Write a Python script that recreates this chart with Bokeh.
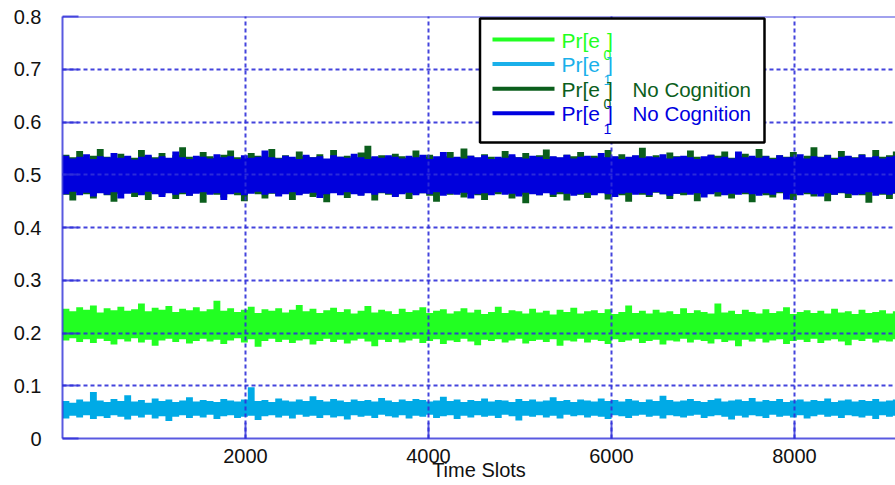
import numpy as np
from bokeh.plotting import figure
from bokeh.models import FixedTicker, Range1d, BoxAnnotation, Label, Span
from bokeh.embed import file_html
from bokeh.resources import INLINE

# ---------------- data (per-bin envelope of each noisy series, 75 time slots per bin) -------------
BIN = 75
X_TICKS = [2000, 4000, 6000, 8000]
Y_TICKS = [0, 0.1, 0.2, 0.3, 0.4, 0.5, 0.6, 0.7, 0.8]
Y_LABELS = {0: "0"}

E0_HIGH = [0.246, 0.241, 0.249, 0.244, 0.252, 0.239, 0.247, 0.243, 0.250, 0.242,
           0.245, 0.256, 0.241, 0.248, 0.244, 0.251, 0.240, 0.246, 0.243, 0.249,
           0.241, 0.245, 0.261, 0.242, 0.247, 0.240, 0.244, 0.250, 0.238, 0.245,
           0.242, 0.247, 0.239, 0.244, 0.253, 0.241, 0.246, 0.238, 0.243, 0.248,
           0.240, 0.245, 0.237, 0.242, 0.251, 0.239, 0.244, 0.241, 0.236, 0.246,
           0.240, 0.243, 0.249, 0.238, 0.242, 0.245, 0.237, 0.241, 0.247, 0.239,
           0.244, 0.236, 0.240, 0.250, 0.238, 0.243, 0.241, 0.237, 0.246, 0.239,
           0.242, 0.235, 0.244, 0.240, 0.248, 0.237, 0.241, 0.243, 0.238, 0.245,
           0.236, 0.240, 0.252, 0.238, 0.242, 0.237, 0.244, 0.239, 0.241, 0.236,
           0.247, 0.238, 0.243, 0.240, 0.237, 0.256, 0.239, 0.242, 0.236, 0.244,
           0.240, 0.237, 0.245, 0.238, 0.241, 0.249, 0.236, 0.240, 0.243, 0.238,
           0.242, 0.237, 0.246, 0.239, 0.241, 0.236, 0.244, 0.238, 0.240, 0.243,
           0.237, 0.241]
E0_LOW = [0.186, 0.190, 0.183, 0.188, 0.181, 0.189, 0.185, 0.178, 0.188, 0.184,
          0.190, 0.182, 0.187, 0.176, 0.186, 0.189, 0.183, 0.188, 0.180, 0.185,
          0.189, 0.184, 0.187, 0.179, 0.186, 0.190, 0.182, 0.188, 0.174, 0.185,
          0.189, 0.183, 0.187, 0.181, 0.186, 0.188, 0.178, 0.185, 0.189, 0.183,
          0.187, 0.180, 0.186, 0.189, 0.184, 0.175, 0.187, 0.183, 0.188, 0.182,
          0.186, 0.189, 0.181, 0.185, 0.188, 0.179, 0.186, 0.183, 0.189, 0.184,
          0.177, 0.187, 0.185, 0.188, 0.182, 0.186, 0.189, 0.180, 0.185, 0.187,
          0.183, 0.188, 0.176, 0.186, 0.184, 0.189, 0.182, 0.187, 0.185, 0.179,
          0.188, 0.183, 0.186, 0.189, 0.181, 0.185, 0.187, 0.178, 0.186, 0.184,
          0.189, 0.182, 0.187, 0.185, 0.180, 0.188, 0.183, 0.186, 0.175, 0.187,
          0.184, 0.189, 0.182, 0.186, 0.188, 0.179, 0.185, 0.187, 0.183, 0.189,
          0.181, 0.186, 0.188, 0.184, 0.177, 0.187, 0.185, 0.189, 0.182, 0.186,
          0.184, 0.188]

E1_HIGH = [0.071, 0.068, 0.074, 0.070, 0.088, 0.072, 0.069, 0.075, 0.071, 0.082,
           0.070, 0.073, 0.068, 0.076, 0.071, 0.074, 0.069, 0.072, 0.078, 0.070,
           0.073, 0.071, 0.069, 0.075, 0.072, 0.070, 0.074, 0.097, 0.071, 0.073,
           0.069, 0.076, 0.072, 0.070, 0.074, 0.071, 0.080, 0.073, 0.070, 0.075,
           0.072, 0.069, 0.074, 0.071, 0.073, 0.070, 0.077, 0.072, 0.069, 0.074,
           0.071, 0.075, 0.073, 0.070, 0.072, 0.079, 0.071, 0.074, 0.069, 0.073,
           0.071, 0.076, 0.070, 0.073, 0.072, 0.069, 0.075, 0.071, 0.074, 0.070,
           0.072, 0.078, 0.071, 0.073, 0.069, 0.074, 0.072, 0.070, 0.076, 0.071,
           0.073, 0.070, 0.075, 0.072, 0.069, 0.074, 0.071, 0.081, 0.073, 0.070,
           0.072, 0.075, 0.071, 0.069, 0.073, 0.076, 0.070, 0.072, 0.074, 0.071,
           0.077, 0.070, 0.073, 0.071, 0.075, 0.069, 0.072, 0.074, 0.070, 0.073,
           0.071, 0.076, 0.069, 0.072, 0.074, 0.070, 0.073, 0.071, 0.075, 0.070,
           0.072, 0.074]
E1_LOW = [0.038, 0.043, 0.040, 0.044, 0.037, 0.042, 0.039, 0.044, 0.041, 0.036,
          0.043, 0.040, 0.045, 0.038, 0.042, 0.033, 0.041, 0.044, 0.039, 0.043,
          0.040, 0.045, 0.037, 0.042, 0.044, 0.039, 0.041, 0.043, 0.035, 0.042,
          0.044, 0.040, 0.043, 0.038, 0.045, 0.041, 0.043, 0.039, 0.044, 0.040,
          0.042, 0.036, 0.044, 0.041, 0.043, 0.039, 0.045, 0.042, 0.040, 0.044,
          0.038, 0.043, 0.041, 0.045, 0.039, 0.042, 0.044, 0.037, 0.043, 0.040,
          0.044, 0.041, 0.043, 0.039, 0.045, 0.042, 0.034, 0.043, 0.041, 0.044,
          0.040, 0.043, 0.038, 0.045, 0.042, 0.044, 0.040, 0.043, 0.041, 0.037,
          0.044, 0.042, 0.039, 0.043, 0.045, 0.041, 0.043, 0.038, 0.044, 0.042,
          0.040, 0.043, 0.045, 0.039, 0.042, 0.044, 0.041, 0.036, 0.043, 0.040,
          0.044, 0.042, 0.039, 0.045, 0.041, 0.043, 0.040, 0.044, 0.038, 0.042,
          0.045, 0.041, 0.043, 0.039, 0.044, 0.042, 0.040, 0.043, 0.037, 0.044,
          0.041, 0.043]

NC0_HIGH = [0.538, 0.533, 0.545, 0.531, 0.536, 0.549, 0.534, 0.530, 0.540, 0.535,
            0.532, 0.547, 0.536, 0.533, 0.541, 0.530, 0.537, 0.552, 0.534, 0.531,
            0.543, 0.535, 0.532, 0.538, 0.546, 0.533, 0.530, 0.541, 0.536, 0.534,
            0.549, 0.532, 0.537, 0.531, 0.544, 0.535, 0.533, 0.539, 0.530, 0.547,
            0.534, 0.536, 0.532, 0.542, 0.555, 0.533, 0.537, 0.531, 0.540, 0.535,
            0.532, 0.546, 0.534, 0.538, 0.531, 0.535, 0.543, 0.533, 0.550, 0.536,
            0.532, 0.539, 0.534, 0.530, 0.545, 0.536, 0.533, 0.541, 0.531, 0.537,
            0.548, 0.534, 0.532, 0.538, 0.535, 0.543, 0.531, 0.536, 0.533, 0.547,
            0.534, 0.539, 0.532, 0.536, 0.551, 0.533, 0.537, 0.531, 0.542, 0.535,
            0.533, 0.546, 0.534, 0.531, 0.538, 0.536, 0.544, 0.532, 0.535, 0.540,
            0.533, 0.549, 0.536, 0.532, 0.537, 0.534, 0.543, 0.531, 0.536, 0.552,
            0.534, 0.538, 0.532, 0.545, 0.535, 0.533, 0.539, 0.531, 0.547, 0.534,
            0.537, 0.544]
NC0_LOW = [0.462, 0.451, 0.466, 0.463, 0.455, 0.467, 0.461, 0.449, 0.464, 0.466,
           0.458, 0.463, 0.452, 0.465, 0.461, 0.467, 0.454, 0.463, 0.460, 0.466,
           0.447, 0.464, 0.462, 0.457, 0.465, 0.461, 0.450, 0.466, 0.463, 0.455,
           0.464, 0.460, 0.467, 0.452, 0.463, 0.465, 0.458, 0.461, 0.448, 0.466,
           0.463, 0.456, 0.464, 0.461, 0.467, 0.451, 0.465, 0.462, 0.459, 0.466,
           0.454, 0.463, 0.465, 0.460, 0.449, 0.464, 0.462, 0.466, 0.457, 0.463,
           0.461, 0.452, 0.465, 0.463, 0.467, 0.455, 0.462, 0.446, 0.464, 0.461,
           0.466, 0.458, 0.463, 0.451, 0.465, 0.462, 0.456, 0.464, 0.467, 0.453,
           0.463, 0.461, 0.449, 0.465, 0.462, 0.458, 0.466, 0.463, 0.454, 0.464,
           0.461, 0.467, 0.450, 0.463, 0.465, 0.459, 0.462, 0.455, 0.466, 0.463,
           0.448, 0.464, 0.461, 0.457, 0.465, 0.462, 0.452, 0.466, 0.463, 0.459,
           0.464, 0.450, 0.462, 0.465, 0.456, 0.463, 0.461, 0.447, 0.466, 0.462,
           0.454, 0.464]

NC1_HIGH = [0.536, 0.531, 0.534, 0.539, 0.530, 0.535, 0.533, 0.541, 0.532, 0.536,
            0.529, 0.534, 0.538, 0.531, 0.535, 0.532, 0.544, 0.533, 0.530, 0.536,
            0.534, 0.531, 0.539, 0.533, 0.535, 0.530, 0.537, 0.532, 0.534, 0.546,
            0.533, 0.531, 0.536, 0.534, 0.530, 0.538, 0.533, 0.535, 0.531, 0.537,
            0.534, 0.532, 0.540, 0.533, 0.530, 0.535, 0.532, 0.537, 0.534, 0.531,
            0.536, 0.533, 0.538, 0.530, 0.535, 0.543, 0.532, 0.534, 0.531, 0.536,
            0.533, 0.537, 0.530, 0.534, 0.532, 0.539, 0.533, 0.531, 0.536, 0.534,
            0.530, 0.535, 0.533, 0.538, 0.531, 0.534, 0.536, 0.532, 0.541, 0.533,
            0.535, 0.530, 0.534, 0.537, 0.532, 0.535, 0.533, 0.539, 0.531, 0.534,
            0.536, 0.533, 0.530, 0.535, 0.538, 0.532, 0.534, 0.531, 0.544, 0.533,
            0.536, 0.532, 0.535, 0.530, 0.537, 0.533, 0.534, 0.539, 0.531, 0.535,
            0.533, 0.537, 0.530, 0.534, 0.536, 0.532, 0.538, 0.533, 0.535, 0.531,
            0.534, 0.536]
NC1_LOW = [0.463, 0.468, 0.461, 0.466, 0.459, 0.465, 0.462, 0.467, 0.455, 0.464,
           0.466, 0.461, 0.468, 0.463, 0.458, 0.465, 0.462, 0.466, 0.460, 0.464,
           0.467, 0.462, 0.465, 0.452, 0.463, 0.466, 0.461, 0.464, 0.468, 0.462,
           0.465, 0.459, 0.463, 0.467, 0.461, 0.464, 0.466, 0.456, 0.463, 0.465,
           0.461, 0.467, 0.463, 0.460, 0.465, 0.462, 0.466, 0.464, 0.458, 0.463,
           0.466, 0.461, 0.465, 0.463, 0.467, 0.460, 0.464, 0.462, 0.466, 0.455,
           0.463, 0.465, 0.461, 0.467, 0.462, 0.464, 0.459, 0.466, 0.463, 0.461,
           0.465, 0.462, 0.467, 0.464, 0.460, 0.463, 0.466, 0.461, 0.465, 0.463,
           0.458, 0.464, 0.466, 0.462, 0.465, 0.461, 0.467, 0.463, 0.460, 0.464,
           0.466, 0.462, 0.465, 0.457, 0.463, 0.467, 0.461, 0.464, 0.462, 0.466,
           0.463, 0.460, 0.465, 0.462, 0.467, 0.453, 0.464, 0.461, 0.466, 0.463,
           0.459, 0.465, 0.462, 0.466, 0.464, 0.461, 0.463, 0.467, 0.460, 0.464,
           0.462, 0.465]

LEGEND_MAIN = ["Pr[e", "Pr[e", "Pr[e", "Pr[e"]
LEGEND_SUB = ["0", "1", "0", "1"]
LEGEND_EXTRA = ["", "", "No Cognition", "No Cognition"]

GREEN = "#22ff22"
CYAN = "#00aae6"
DKGREEN = "#0b5e1c"
BLUE = "#0000dc"
AXIS = "#3030d8"
FONT = "Liberation Sans"

SERIES = [
    (E0_HIGH, E0_LOW, GREEN),
    (E1_HIGH, E1_LOW, CYAN),
    (NC0_HIGH, NC0_LOW, DKGREEN),
    (NC1_HIGH, NC1_LOW, BLUE),
]
LEG_COLORS = [GREEN, "#1ab0ea", DKGREEN, "#0000e0"]

# ---------------- geometry (page pixels; the Bokeh page has no body margin) ----------------
W, H = 895, 485
FRAME_L, FRAME_T, FRAME_B = 62, 16, 438
PX_PER_X = (793 - 244) / 6000.0
X_END = (W - FRAME_L) / PX_PER_X
Y_END = 0.8

def dx(px):
    return (px - FRAME_L) / PX_PER_X

def dy(py):
    return (FRAME_B - py) / (FRAME_B - FRAME_T) * Y_END

p = figure(width=W, height=H, output_backend="svg", toolbar_location=None,
           x_range=Range1d(0, X_END), y_range=Range1d(0, Y_END),
           min_border_left=FRAME_L, min_border_right=0,
           min_border_top=FRAME_T, min_border_bottom=H - FRAME_B)
p.outline_line_color = None
p.background_fill_color = "white"
p.border_fill_color = "white"

for hi, lo, col in SERIES:
    n = len(hi)
    edges = list(np.arange(n + 1) * BIN)
    p.varea_step(x=edges, y1=list(lo) + [lo[-1]], y2=list(hi) + [hi[-1]],
                 step_mode="after", fill_color=col, fill_alpha=1.0)

# axes
for ax in (p.xaxis, p.yaxis):
    ax.axis_line_color = AXIS
    ax.axis_line_width = 2
    ax.axis_line_alpha = 0.8
    ax.major_tick_line_color = AXIS
    ax.major_tick_line_width = 2
    ax.major_tick_line_alpha = 0.8
    ax.major_tick_in = 16
    ax.major_tick_out = 0
    ax.minor_tick_line_color = None
    ax.major_label_text_font = FONT
    ax.major_label_text_font_size = "20px"
    ax.major_label_text_color = "#111111"

p.xaxis.ticker = FixedTicker(ticks=X_TICKS)
p.yaxis.ticker = FixedTicker(ticks=Y_TICKS)
p.yaxis.major_label_overrides = Y_LABELS
p.yaxis.major_label_standoff = 21
p.xaxis.major_label_standoff = 10
p.xaxis.axis_label = "Time Slots"
p.xaxis.axis_label_text_font = FONT
p.xaxis.axis_label_text_font_size = "20px"
p.xaxis.axis_label_text_font_style = "normal"
p.xaxis.axis_label_text_color = "#111111"
p.xaxis.axis_label_standoff = -7

for g in (p.xgrid, p.ygrid):
    g.grid_line_color = AXIS
    g.grid_line_alpha = 0.9
    g.grid_line_width = 2
    g.grid_line_dash = "4 3"
    g.level = "guide"
p.xgrid.ticker = FixedTicker(ticks=X_TICKS)
p.ygrid.ticker = FixedTicker(ticks=Y_TICKS)

p.add_layout(Span(location=Y_END, dimension="width", line_color=AXIS,
                  line_width=2, line_alpha=0.9))

# legend box drawn by hand (subscripts and per-item text colours)
p.add_layout(BoxAnnotation(left=dx(479.5), right=dx(764), top=dy(18), bottom=dy(142),
                           fill_color="white", fill_alpha=1.0,
                           line_color="black", line_width=2.5, line_alpha=1.0))
for i in range(4):
    ry = 39 + i * 24.6
    col = LEG_COLORS[i]
    p.segment(x0=[dx(492)], y0=[dy(ry)], x1=[dx(554)], y1=[dy(ry)],
              line_color=col, line_width=4, level="overlay")
    p.add_layout(Label(x=dx(561), y=dy(ry + 0.5), text=LEGEND_MAIN[i], text_color=col,
                       text_font=FONT, text_font_size="21px",
                       text_baseline="middle", level="overlay"))
    p.add_layout(Label(x=dx(603), y=dy(ry + 15.5), text=LEGEND_SUB[i], text_color=col,
                       text_font=FONT, text_font_size="14px",
                       text_baseline="middle", level="overlay"))
    p.add_layout(Label(x=dx(606.5), y=dy(ry + 0.5), text="]", text_color=col,
                       text_font=FONT, text_font_size="21px",
                       text_baseline="middle", level="overlay"))
    if LEGEND_EXTRA[i]:
        p.add_layout(Label(x=dx(632), y=dy(ry + 0.5), text=LEGEND_EXTRA[i], text_color=col,
                           text_font=FONT, text_font_size="20.5px",
                           text_baseline="middle", level="overlay"))

open("out.html", "w").write(file_html(p, INLINE))
